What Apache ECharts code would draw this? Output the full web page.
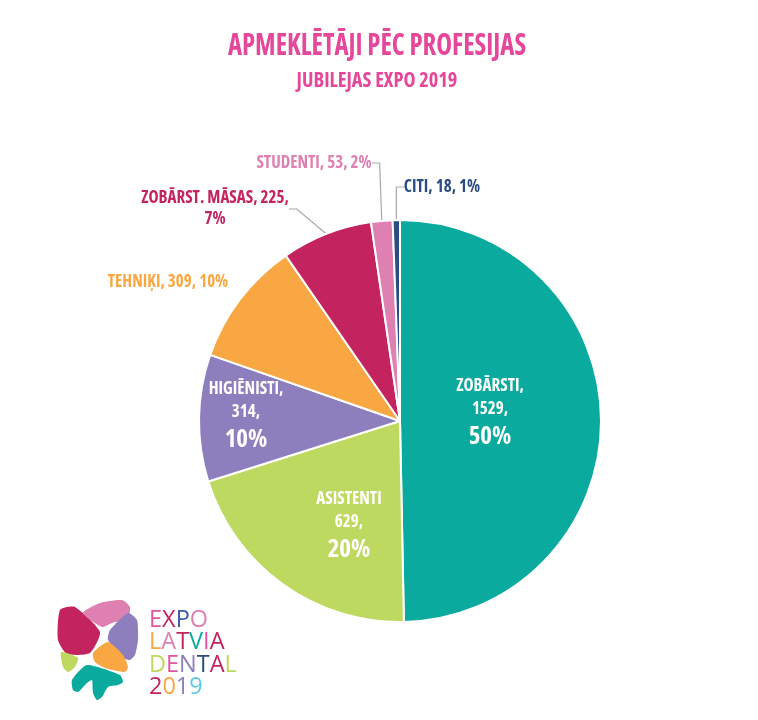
<!DOCTYPE html>
<html><head><meta charset="utf-8">
<script src="https://cdn.jsdelivr.net/npm/echarts@6/dist/echarts.min.js"></script>
<style>html,body{margin:0;padding:0;background:#fff}#c{width:758px;height:720px}</style>
</head><body><div id="c"></div>
<script>
const categories = ['ZOBĀRSTI', 'ASISTENTI', 'HIGIĒNISTI', 'TEHNIĶI', 'ZOBĀRST. MĀSAS', 'STUDENTI', 'CITI'];
const values = [1529, 629, 314, 309, 225, 53, 18];
const colors = ['#0BAA9E', '#BDD960', '#8D7FBE', '#F8A743', '#C3245F', '#DE80B1', '#2A4C82'];
const insideCats = ['ZOBĀRSTI', 'ASISTENTI', 'HIGIĒNISTI'];
const titleText = 'APMEKLĒTĀJI PĒC PROFESIJAS';
const subtitleText = 'JUBILEJAS EXPO 2019';

const FONT = "'Open Sans', sans-serif";
const BOLDC = 'bold condensed';

// label anchor placement (text positions only)
const labelPlacement = {
  'ZOBĀRSTI': {x: 490, y: 414},
  'ASISTENTI': {x: 349, y: 527},
  'HIGIĒNISTI': {x: 246, y: 417},
  'TEHNIĶI': {x: 168, y: 282},
  'ZOBĀRST. MĀSAS': {x: 215, y: 209},
  'STUDENTI': {x: 314, y: 163},
  'CITI': {x: 442, y: 187}
};

const chart = echarts.init(document.getElementById('c'), null, {renderer: 'canvas'});

function fmt(p) {
  const pct = Math.round(p.percent) + '%';
  if (insideCats.indexOf(p.name) >= 0) {
    const sep = p.name === 'ASISTENTI' ? '' : ',';
    return '{n|' + p.name + sep + '}\n{n|' + p.value + ',}\n{p|' + pct + '}';
  }
  if (p.name === 'ZOBĀRST. MĀSAS') {
    return '{o|' + p.name + ', ' + p.value + ',}\n{o|' + pct + '}';
  }
  return '{o|' + p.name + ', ' + p.value + ', ' + pct + '}';
}

const data = categories.map((c, i) => {
  const inside = insideCats.indexOf(c) >= 0;
  return {
    name: c,
    value: values[i],
    itemStyle: {color: colors[i]},
    label: {
      position: inside ? 'inside' : 'outside',
      rich: {
        n: {fontFamily: FONT, fontWeight: BOLDC, fontSize: 17, lineHeight: 23, color: '#fff', align: 'center'},
        p: {fontFamily: FONT, fontWeight: BOLDC, fontSize: 25, lineHeight: 32, color: '#fff', align: 'center'},
        o: {fontFamily: FONT, fontWeight: BOLDC, fontSize: 17, lineHeight: 21, color: colors[i], align: 'center'}
      }
    },
    labelLine: {show: !inside && c !== 'TEHNIĶI'}
  };
});

// logo shapes (decorative)
const logoShapes = [
  {c: '#C3245F', pts: [[60,610],[75,607],[100,632],[90,653],[67,654],[58,640]]},
  {c: '#DE80B1', pts: [[83,613],[100,603],[122,600],[130,607],[128,618],[112,623],[102,627]]},
  {c: '#8D7FBE', pts: [[110,630],[128,613],[137,620],[138,640],[135,655],[130,660],[123,658],[108,640]]},
  {c: '#F8A743', pts: [[93,653],[108,642],[123,655],[128,667],[125,672],[105,668],[95,662]]},
  {c: '#BDD960', pts: [[61,652],[78,658],[75,667],[68,672],[63,667]]},
  {c: '#0BAA9E', pts: [[72,680],[87,665],[120,675],[123,682],[118,685],[108,687],[102,697],[97,700],[93,693],[92,680],[87,683],[78,692],[73,690]]}
];
const logoLines = [
  {t: 'EXPO', cols: ['#E0559D','#C3245F','#3B5BA8','#DE80B1']},
  {t: 'LATVIA', cols: ['#F8A743','#DE80B1','#C3245F','#0BAA9E','#E0559D','#C3245F']},
  {t: 'DENTAL', cols: ['#BDD960','#E0559D','#8D7FBE','#2A4C82','#C3245F','#BDD960']},
  {t: '2019', cols: ['#C3245F','#F8A743','#8D7FBE','#5BC8E8']}
];
const graphics = [];
graphics.push({type: 'text', x: 377, y: 46, scaleX: 0.89, style: {text: titleText, align: 'center', verticalAlign: 'middle', fontFamily: FONT, fontWeight: BOLDC, fontSize: 30, fill: '#E5479A'}});
graphics.push({type: 'text', x: 377, y: 81, scaleX: 0.97, style: {text: subtitleText, align: 'center', verticalAlign: 'middle', fontFamily: FONT, fontWeight: BOLDC, fontSize: 21, fill: '#E5479A'}});
logoShapes.forEach(s => graphics.push({type: 'polygon', shape: {points: s.pts, smooth: 0.2}, style: {fill: s.c}, z: 10}));
logoLines.forEach((l, i) => {
  const rich = {};
  let txt = '';
  l.t.split('').forEach((ch, j) => { rich['c' + j] = {fill: l.cols[j], fontFamily: FONT, fontSize: 23.5, fontWeight: 400}; txt += '{c' + j + '|' + ch + '}'; });
  graphics.push({type: 'text', x: 149, y: 620 + i * 22.5, style: {text: txt, rich: rich, fontSize: 23.5, verticalAlign: 'middle'}, z: 10});
});

chart.setOption({
  animation: false,
  backgroundColor: '#fff',
  graphic: graphics,
  series: [{
    type: 'pie',
    center: [400, 421],
    radius: 201,
    startAngle: 90,
    clockwise: true,
    data: data,
    itemStyle: {borderColor: '#fff', borderWidth: 2},
    label: {formatter: fmt, fontFamily: FONT},
    labelLine: {length: 15, length2: 8, lineStyle: {color: '#A8A8A8', width: 1.2}},
    labelLayout: function (p) {
      const pl = labelPlacement[categories[p.dataIndex]];
      return {x: pl.x, y: pl.y, align: 'center', verticalAlign: 'middle'};
    }
  }]
});
</script></body></html>
